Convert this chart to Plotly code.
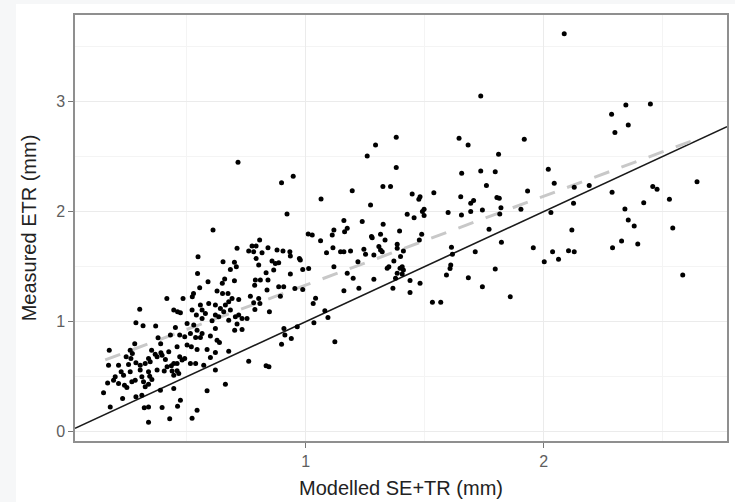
import plotly.graph_objects as go

# ---- data ----
pts_low_left = [
    (0.302,1.113),(0.286,0.989),(0.316,0.962),(0.369,0.959),(0.445,1.104),(0.461,1.089),(0.473,1.080),(0.522,1.104),
    (0.540,1.059),(0.501,0.983),(0.529,0.968),(0.543,0.922),(0.515,0.892),(0.452,0.947),(0.431,0.877),(0.470,0.877),
    (0.491,0.862),(0.537,0.856),(0.379,0.853),(0.390,0.798),(0.281,0.798),(0.262,0.740),(0.271,0.710),(0.174,0.740),
    (0.352,0.740),(0.367,0.704),(0.391,0.716),(0.424,0.725),(0.459,0.771),(0.470,0.680),(0.501,0.786),(0.519,0.771),
    (0.245,0.680),(0.265,0.665),(0.171,0.604),(0.213,0.604),(0.255,0.610),(0.286,0.625),(0.325,0.619),(0.339,0.665),
    (0.375,0.680),(0.396,0.695),(0.410,0.656),(0.417,0.589),(0.435,0.598),(0.459,0.619),(0.480,0.650),(0.515,0.619),
    (0.537,0.619),(0.224,0.544),(0.234,0.513),(0.199,0.498),(0.192,0.468),(0.167,0.443),(0.213,0.437),(0.238,0.422),
    (0.248,0.401),(0.269,0.453),(0.304,0.559),(0.311,0.498),(0.318,0.453),(0.339,0.544),(0.344,0.504),(0.339,0.431),
    (0.375,0.559),(0.405,0.550),(0.438,0.550),(0.459,0.553),(0.466,0.528),(0.150,0.353),(0.230,0.301),(0.286,0.316),
    (0.311,0.331),(0.389,0.377),(0.445,0.392),(0.178,0.225),(0.321,0.216),(0.339,0.225),(0.396,0.219),(0.461,0.231),
    (0.473,0.286),(0.543,0.195),(0.339,0.086),(0.428,0.116),(0.522,0.122),(0.491,0.665),(0.353,0.474),(0.325,0.407),
    (0.283,0.468),(0.262,0.544),(0.304,0.604),(0.346,0.634),(0.445,0.513),(0.543,0.747),(0.445,0.619),
]
pts_low_mid = [
    (0.564,1.104),(0.592,1.165),(0.620,1.150),(0.641,1.119),(0.662,1.150),(0.676,1.180),(0.655,1.089),(0.683,1.104),
    (0.620,1.059),(0.634,1.043),(0.564,1.028),(0.606,1.007),(0.676,1.013),(0.704,1.043),(0.718,1.059),(0.732,1.028),
    (0.753,1.028),(0.711,0.977),(0.701,0.922),(0.732,0.928),(0.620,0.937),(0.564,0.892),(0.557,0.856),(0.599,0.868),
    (0.627,0.831),(0.637,0.810),(0.585,0.747),(0.620,0.719),(0.599,0.674),(0.676,0.731),(0.571,0.604),(0.620,0.559),
    (0.760,0.640),(0.833,0.598),(0.845,0.589),(0.908,0.937),(0.912,0.877),(0.939,0.847),(0.898,0.795),(0.964,0.953),
    (0.781,1.171),(0.807,1.165),(0.847,1.089),(0.786,1.110),(0.585,0.371),(0.662,0.431),(0.578,1.074),(0.557,1.150),
]
pts_up_left = [
    (0.610,1.832),(0.711,1.665),(0.547,1.589),(0.652,1.544),(0.700,1.538),(0.708,1.498),(0.683,1.474),(0.545,1.437),
    (0.589,1.362),(0.659,1.386),(0.649,1.347),(0.700,1.371),(0.554,1.307),(0.627,1.277),(0.650,1.256),(0.673,1.256),
    (0.528,1.256),(0.416,1.210),(0.484,1.210),(0.523,1.225),(0.690,1.210),(0.718,1.201),(0.715,2.448),(0.947,2.321),
]
pts_up_mid = [
    (0.898,2.262),(0.921,1.977),(1.010,1.795),(0.806,1.741),(0.774,1.686),(0.791,1.686),(0.760,1.641),(0.781,1.635),
    (0.816,1.625),(0.841,1.671),(0.879,1.650),(0.904,1.641),(0.933,1.635),(0.935,1.595),(0.973,1.574),(0.977,1.559),
    (0.791,1.574),(0.802,1.513),(0.858,1.550),(0.872,1.528),(0.886,1.535),(0.865,1.468),(0.833,1.444),(0.788,1.377),
    (0.809,1.377),(0.785,1.331),(0.841,1.377),(0.935,1.431),(0.987,1.474),(1.012,1.483),(0.837,1.286),(0.886,1.316),
    (0.907,1.316),(0.954,1.301),(0.987,1.292),(0.767,1.231),(0.802,1.210),(0.893,1.231),
]
pts_centre = [
    (1.027,1.787),(1.062,1.735),(1.064,2.114),(1.087,1.626),(1.114,1.671),(1.111,1.787),(1.118,1.832),(1.146,1.635),
    (1.160,1.635),(1.160,1.917),(1.163,1.817),(1.174,1.847),(1.188,1.641),(1.195,2.189),(1.118,1.499),(1.174,1.438),
    (1.199,1.393),(1.160,1.280),(1.223,1.302),(1.219,1.544),(1.041,1.211),(1.031,1.165),(1.080,1.099),(1.093,1.038),
    (1.122,0.817),(1.034,0.990),(1.380,2.674),(1.293,2.605),(1.258,2.505),(1.380,2.399),(1.324,2.226),(1.356,2.226),
    (1.538,2.171),(1.447,2.159),(1.480,2.135),(1.475,2.111),
    (1.272,2.059),(1.237,1.908),(1.325,1.884),(1.426,1.975),(1.455,1.944),(1.490,1.999),(1.497,2.020),(1.497,1.963),
    (1.394,1.823),(1.487,1.793),(1.477,1.741),(1.276,1.772),(1.314,1.793),(1.333,1.741),(1.244,1.657),(1.251,1.611),
    (1.307,1.681),(1.314,1.650),(1.321,1.635),(1.384,1.702),(1.410,1.641),(1.398,1.590),(1.370,1.550),(1.342,1.484),
    (1.349,1.499),(1.396,1.484),(1.405,1.499),(1.410,1.469),(1.286,1.384),(1.377,1.393),(1.438,1.372),(1.480,1.347),
    (1.366,1.302),(1.438,1.263),(1.532,1.175),(1.567,1.175),(1.384,1.665),(1.286,1.605),(1.384,1.438),(1.405,1.432),
    (1.279,1.762),
]
pts_right = [
    (2.086,3.614),(1.735,3.050),(2.345,2.968),(2.448,2.977),(2.285,2.883),(2.355,2.786),(2.299,2.717),(1.644,2.665),
    (1.682,2.605),(1.918,2.656),(1.810,2.520),(1.655,2.347),(1.735,2.368),(1.796,2.362),(2.019,2.383),(1.759,2.235),
    (1.651,2.135),(1.705,2.099),(1.693,2.074),(1.803,2.126),(1.813,2.120),(1.932,2.186),(2.044,2.256),(2.128,2.220),
    (2.191,2.235),(2.287,2.174),(2.458,2.226),(2.476,2.202),(2.644,2.271),(1.598,1.990),(1.654,1.968),(1.693,1.999),
    (1.742,2.014),(1.820,2.035),(1.815,1.977),(1.904,2.020),(2.030,1.990),(2.125,2.074),(2.341,2.023),(2.420,2.080),
    (2.528,2.111),(1.770,1.838),(1.822,1.720),(2.118,1.832),(2.355,1.923),(2.380,1.868),(2.542,1.850),(1.612,1.674),
    (1.616,1.611),(1.712,1.635),(1.609,1.514),(1.606,1.483),(1.591,1.423),(1.683,1.399),(1.742,1.317),(1.796,1.477),
    (1.859,1.226),(1.956,1.671),(2.002,1.544),(2.037,1.635),(2.062,1.565),(2.104,1.644),(2.128,1.635),(2.289,1.671),
    (2.327,1.732),(2.395,1.705),(2.584,1.423),
]

# regression (dashed) line: intercept, slope, and x extent of the data
reg_intercept = 0.525
reg_slope = 0.807
reg_x = [0.157, 2.644]

x_range = [0.03, 2.77]
y_range = [-0.085, 3.785]
x_ticks = [1, 2]
y_ticks = [0, 1, 2, 3]
x_minor = [0.5, 1.5, 2.5]
y_minor = [0.5, 1.5, 2.5, 3.5]
x_title = "Modelled SE+TR (mm)"
y_title = "Measured ETR (mm)"

all_pts = pts_low_left + pts_low_mid + pts_up_left + pts_up_mid + pts_centre + pts_right
xs = [p[0] for p in all_pts]
ys = [p[1] for p in all_pts]

fig = go.Figure()
fig.add_trace(go.Scatter(
    x=x_range, y=x_range, mode="lines",
    line=dict(color="#1a1a1a", width=1.6), hoverinfo="skip", showlegend=False))
fig.add_trace(go.Scatter(
    x=reg_x, y=[reg_intercept + reg_slope * v for v in reg_x], mode="lines",
    line=dict(color="#c8c8c8", width=3, dash="16px,13px"), hoverinfo="skip", showlegend=False))
fig.add_trace(go.Scatter(
    x=xs, y=ys, mode="markers",
    marker=dict(color="#000000", size=5, line=dict(width=0)), showlegend=False))

W, H = 735, 502
ml, mr, mt, mb = 75, 8, 15, 61
pw, ph = W - ml - mr, H - mt - mb
# white card behind the chart, light grey page strip at left/top
fig.add_shape(type="rect", xref="paper", yref="paper", layer="below",
              x0=(16 - ml) / pw, x1=(W - ml + 5) / pw,
              y0=-(mb + 5) / ph, y1=(ph + mt - 4) / ph,
              fillcolor="#ffffff", line=dict(width=0))

font_fam = "Liberation Sans, Arial, sans-serif"
axis_common = dict(
    showline=True, mirror=True, linecolor="#8f8f8f", linewidth=1.5,
    ticks="outside", ticklen=5, tickwidth=1.2, tickcolor="#777777",
    showgrid=True, gridcolor="#ebebeb", gridwidth=1.3, zeroline=False,
    tickfont=dict(family=font_fam, size=16, color="#5e5e5e"),
)
fig.update_xaxes(range=x_range, tickvals=x_ticks, ticktext=[str(v) for v in x_ticks],
                 minor=dict(tickvals=x_minor, showgrid=True, gridcolor="#f4f4f4", gridwidth=1, ticks=""),
                 title=dict(text=x_title, font=dict(family=font_fam, size=20, color="#222222"), standoff=12),
                 **axis_common)
fig.update_yaxes(range=y_range, tickvals=y_ticks, ticktext=[str(v) for v in y_ticks],
                 minor=dict(tickvals=y_minor, showgrid=True, gridcolor="#f4f4f4", gridwidth=1, ticks=""),
                 title=dict(text=y_title, font=dict(family=font_fam, size=20, color="#222222"), standoff=14),
                 **axis_common)
fig.update_layout(
    width=W, height=H,
    margin=dict(l=ml, r=mr, t=mt, b=mb, autoexpand=False),
    paper_bgcolor="#f6f7f8", plot_bgcolor="#ffffff",
    showlegend=False,
)
fig.write_html("out.html", config={"displayModeBar": False},
               post_script="document.body.style.margin='0';document.body.style.background='#f6f7f8';")
